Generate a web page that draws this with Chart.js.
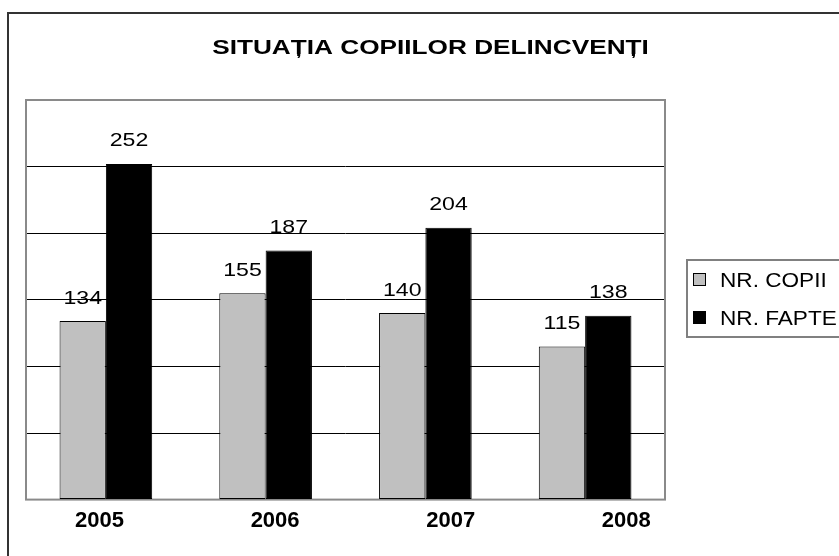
<!DOCTYPE html>
<html>
<head>
<meta charset="utf-8">
<script src="https://cdn.jsdelivr.net/npm/chart.js"></script>
<style>
  body { margin: 0; background: #fff; overflow: hidden; }
  #box { position: relative; width: 839px; height: 556px; }
</style>
</head>
<body>
<div id="box"><canvas id="myChart"></canvas></div>
<script>
// data
const categories = ['2005', '2006', '2007', '2008'];
const nrCopii = [134, 155, 140, 115];
const nrFapte = [252, 187, 204, 138];
const seriesNames = ['NR. COPII', 'NR. FAPTE'];
const seriesColors = ['#c0c0c0', '#000000'];
const titleText = 'SITUAȚIA COPIILOR DELINCVENȚI';
const yMax = 300;
const yStep = 50;

const FONT = "'Liberation Sans', Arial, sans-serif";

// text in the source is stretched sideways, so draw it scaled
function stretchText(ctx, text, x, y, sx, align) {
  ctx.save();
  ctx.translate(x, y);
  ctx.scale(sx, 1);
  ctx.textAlign = align;
  ctx.textBaseline = 'alphabetic';
  ctx.fillText(text, 0, 0);
  ctx.restore();
}

const decor = {
  id: 'decor',
  beforeDatasetsDraw(chart) {
    const { ctx, chartArea: a } = chart;
    ctx.save();
    ctx.strokeStyle = '#8a8a8a';
    ctx.lineWidth = 2;
    ctx.strokeRect(a.left, a.top, a.right - a.left, a.bottom - a.top);
    ctx.restore();
  },
  afterDatasetsDraw(chart) {
    const ctx = chart.ctx;
    ctx.save();
    ctx.fillStyle = '#000';
    ctx.font = '17.5px ' + FONT;
    chart.data.datasets.forEach((ds, i) => {
      chart.getDatasetMeta(i).data.forEach((bar, j) => {
        stretchText(ctx, String(ds.data[j]), bar.x, bar.y - 17.5, 1.32, 'center');
      });
    });
    ctx.restore();
  },
  afterDraw(chart) {
    const ctx = chart.ctx;
    ctx.save();
    // outer chart frame
    ctx.strokeStyle = '#333';
    ctx.lineWidth = 2;
    ctx.strokeRect(8, 13, 1200, 1200);

    // title
    ctx.fillStyle = '#000';
    ctx.font = 'bold 20px ' + FONT;
    stretchText(ctx, titleText, 430.5, 54, 1.31, 'center');

    // legend
    ctx.strokeStyle = '#808080';
    ctx.lineWidth = 2;
    ctx.strokeRect(687, 260, 400, 77);
    ctx.font = '20px ' + FONT;
    const rows = [287, 325];
    chart.data.datasets.forEach((ds, i) => {
      ctx.fillStyle = ds.backgroundColor;
      ctx.fillRect(693.5, rows[i] - 13.5, 12, 12);
      ctx.strokeStyle = '#000';
      ctx.lineWidth = 1;
      ctx.strokeRect(693.5, rows[i] - 13.5, 12, 12);
      ctx.fillStyle = '#000';
      stretchText(ctx, ds.label, 720, rows[i], 1.13, 'left');
    });
    ctx.restore();
  }
};

new Chart(document.getElementById('myChart'), {
  type: 'bar',
  data: {
    labels: categories,
    datasets: [
      { label: seriesNames[0], data: nrCopii, backgroundColor: seriesColors[0] },
      { label: seriesNames[1], data: nrFapte, backgroundColor: seriesColors[1] }
    ]
  },
  options: {
    responsive: true,
    maintainAspectRatio: false,
    animation: false,
    layout: { padding: { left: 26, top: 100, right: 174, bottom: 14 } },
    datasets: {
      bar: {
        borderColor: '#000',
        borderWidth: 1,
        borderSkipped: false,
        barPercentage: 1,
        categoryPercentage: 0.58
      }
    },
    plugins: {
      legend: { display: false },
      title: { display: false },
      tooltip: { enabled: false }
    },
    scales: {
      x: { display: false },
      // year labels sit on their own axis, a bit wider spaced than the bars
      xl: {
        type: 'linear',
        position: 'bottom',
        offset: false,
        bounds: 'data',
        min: -0.419,
        max: 3.221,
        afterBuildTicks: (scale) => {
          scale.ticks = categories.map((c, i) => ({ value: i }));
        },
        grid: { display: false, drawTicks: false, offset: false },
        border: { display: false },
        ticks: {
          padding: 8,
          color: '#000',
          font: { family: FONT, size: 22, weight: 'bold' },
          callback: (v) => categories[v]
        }
      },
      y: {
        min: 0,
        max: yMax,
        ticks: { stepSize: yStep, display: false },
        border: { display: false },
        grid: {
          drawTicks: false,
          lineWidth: 1,
          color: (c) => (c.tick.value === 0 || c.tick.value === yMax) ? 'rgba(0,0,0,0)' : '#000'
        }
      }
    }
  },
  plugins: [decor]
});
</script>
</body>
</html>
